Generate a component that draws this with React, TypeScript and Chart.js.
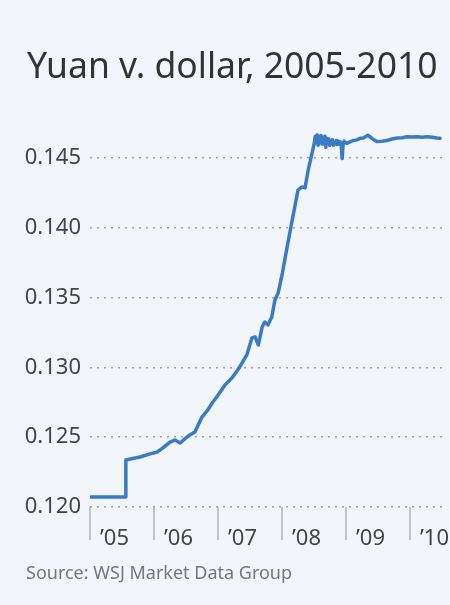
import React, { useEffect, useRef } from 'react';
import { Chart, registerables } from 'chart.js';

Chart.register(...registerables);

const TITLE = 'Yuan v. dollar, 2005-2010';
const SOURCE = 'Source: WSJ Market Data Group';

const yearTicks = [2005, 2006, 2007, 2008, 2009, 2010];
const yearLabels = ['\u201905', '\u201906', '\u201907', '\u201908', '\u201909', '\u201910'];
const rateTicks = [0.12, 0.125, 0.13, 0.135, 0.14, 0.145];

const dates = [
  2005.0, 2005.55, 2005.56, 2005.63, 2005.78, 2005.94, 2006.05, 2006.14, 2006.25, 2006.33,
  2006.37, 2006.41, 2006.48, 2006.56, 2006.64, 2006.69, 2006.75, 2006.84, 2006.92, 2006.98,
  2007.11, 2007.23, 2007.34, 2007.45, 2007.53, 2007.58, 2007.63, 2007.69, 2007.73, 2007.78,
  2007.84, 2007.89, 2007.94, 2008.0, 2008.08, 2008.16, 2008.2, 2008.25, 2008.31, 2008.36,
  2008.41, 2008.47, 2008.5, 2008.52, 2008.535, 2008.55, 2008.565, 2008.58, 2008.595, 2008.61,
  2008.625, 2008.64, 2008.655, 2008.67, 2008.685, 2008.7, 2008.715, 2008.73, 2008.745, 2008.76,
  2008.775, 2008.79, 2008.805, 2008.82, 2008.835, 2008.85, 2008.865, 2008.88, 2008.895, 2008.91,
  2008.925, 2008.94, 2008.955, 2008.97, 2008.99, 2009.02, 2009.06, 2009.12, 2009.17, 2009.22,
  2009.27, 2009.34, 2009.38, 2009.41, 2009.48, 2009.56, 2009.64, 2009.72, 2009.8, 2009.88,
  2009.95, 2010.03, 2010.11, 2010.19, 2010.27, 2010.35, 2010.42, 2010.47,
];

const rates = [
  0.12072, 0.12072, 0.12337, 0.12344, 0.12358, 0.1238, 0.12394, 0.12423, 0.12465, 0.1248,
  0.12468, 0.12458, 0.12487, 0.12516, 0.12537, 0.12587, 0.12644, 0.12695, 0.12752, 0.12788,
  0.12874, 0.12931, 0.13003, 0.13089, 0.13211, 0.13218, 0.1316, 0.13289, 0.13325, 0.13304,
  0.13361, 0.13483, 0.13533, 0.1366, 0.13862, 0.14056, 0.14149, 0.1427, 0.14292, 0.14285,
  0.14414, 0.14536, 0.14595, 0.14655, 0.1461, 0.14665, 0.1459, 0.14655, 0.14615, 0.1466,
  0.146, 0.14645, 0.1462, 0.14655, 0.14575, 0.1464, 0.1461, 0.14635, 0.1459, 0.14625,
  0.14605, 0.1463, 0.1459, 0.14615, 0.146, 0.14625, 0.14595, 0.1462, 0.146, 0.14615,
  0.1459, 0.14495, 0.146, 0.1462, 0.1461, 0.14605, 0.14615, 0.14625, 0.14629, 0.1464,
  0.14643, 0.14662, 0.1465, 0.14638, 0.14618, 0.1462, 0.14625, 0.14635, 0.14643, 0.14645,
  0.14651, 0.1465, 0.14651, 0.14648, 0.14651, 0.14648, 0.14643, 0.1464,
];

const BG = '#f2f5fa';
const FONT = '"Noto Sans", "DejaVu Sans", sans-serif';

export default function App() {
  const ref = useRef<HTMLCanvasElement | null>(null);

  useEffect(() => {
    document.body.style.margin = '0';
    document.body.style.background = BG;
    const canvas = ref.current;
    if (!canvas) return;

    const textPlugin = {
      id: 'wsjText',
      beforeDraw(chart: any) {
        const ctx = chart.ctx;
        ctx.save();
        ctx.fillStyle = BG;
        ctx.fillRect(0, 0, chart.width, chart.height);
        ctx.restore();
      },
      afterDraw(chart: any) {
        const ctx = chart.ctx;
        ctx.save();
        ctx.textBaseline = 'alphabetic';
        ctx.textAlign = 'left';
        ctx.fillStyle = '#333333';
        ctx.font = `35.5px ${FONT}`;
        ctx.fillText(TITLE, 27, 78);
        ctx.fillStyle = '#777777';
        ctx.font = `18px ${FONT}`;
        ctx.fillText(SOURCE, 26, 579);
        ctx.restore();
      },
    };

    const chart = new Chart(canvas, {
      type: 'line',
      data: {
        datasets: [
          {
            data: dates.map((d, i) => ({ x: d, y: rates[i] })),
            borderColor: '#3a7cc4',
            borderWidth: 3.5,
            borderJoinStyle: 'round',
            borderCapStyle: 'round',
            pointRadius: 0,
            tension: 0,
            fill: false,
          },
        ],
      },
      options: {
        animation: false,
        responsive: false,
        maintainAspectRatio: false,
        layout: { padding: { left: 0, right: 8, top: 123, bottom: 58 } },
        plugins: { legend: { display: false }, tooltip: { enabled: false }, title: { display: false } },
        scales: {
          x: {
            type: 'linear',
            min: 2005,
            max: 2010.5,
            afterBuildTicks: (s: any) => {
              s.ticks = yearTicks.map((v) => ({ value: v }));
            },
            afterFit: (s: any) => {
              s.height = 40;
            },
            ticks: {
              autoSkip: false,
              maxRotation: 0,
              align: 'start',
              labelOffset: 10,
              padding: -14,
              color: '#444',
              font: { family: FONT, size: 22 },
              callback: (v: any) => {
                const i = yearTicks.indexOf(Math.round(Number(v)));
                return i >= 0 ? yearLabels[i] : '';
              },
            },
            grid: { drawOnChartArea: false, drawTicks: true, tickLength: 33, color: '#c4c4c4', lineWidth: 2 },
            border: { display: false },
          },
          y: {
            min: 0.12,
            max: 0.1475,
            afterBuildTicks: (s: any) => {
              s.ticks = rateTicks.map((v) => ({ value: v }));
            },
            afterFit: (s: any) => {
              s.width = 90;
            },
            ticks: {
              padding: 9,
              color: '#444',
              font: { family: FONT, size: 22 },
              callback: (v: any) => Number(v).toFixed(3),
            },
            grid: { drawTicks: false, color: '#a3a3a3', lineWidth: 1.5 },
            border: { display: false, dash: [2, 5] },
          },
        },
      },
      plugins: [textPlugin],
    } as any);

    return () => chart.destroy();
  }, []);

  return <canvas ref={ref} width={450} height={605} style={{ display: 'block' }} />;
}
